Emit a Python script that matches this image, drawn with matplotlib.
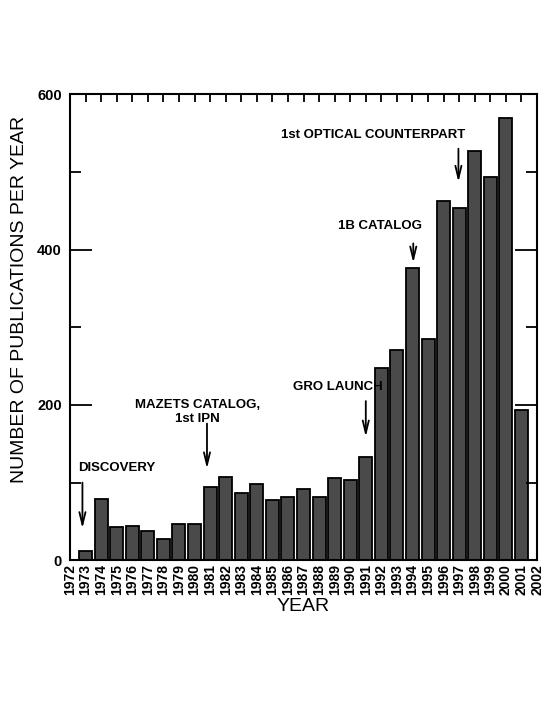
"""Bar chart of GRB publications per year, 1973-2001."""

import numpy as np
from matplotlib import pyplot

years = np.arange(1973, 2002)
counts = [12, 79, 43, 44, 38, 27, 47, 47, 95, 107,
          87, 98, 78, 81, 92, 81, 106, 104, 133, 247,
          271, 376, 285, 462, 453, 527, 494, 569, 193]

# (text, text x, text y, arrow x, arrow top, arrow tip)
events = [
    ('DISCOVERY', 1972.5, 119, 1972.8, 100, 41),
    ('MAZETS CATALOG,\n1st IPN', 1980.2, 191, 1980.8, 176, 118),
    ('GRO LAUNCH', 1989.2, 223, 1991.0, 205, 159),
    ('1B CATALOG', 1991.9, 431, 1994.05, 408, 383),
    ('1st OPTICAL COUNTERPART', 1991.5, 548, 1996.95, 530, 487),
]

pyplot.rc('font', family='Liberation Sans')
fig = pyplot.figure(figsize=(5.45, 7.06), dpi=100)
ax = fig.add_axes([0.1284, 0.2064, 0.857, 0.66])

ax.bar(years, counts, width=0.84, color='#4a4a4a',
       edgecolor='black', linewidth=1.3)

ax.set_xlim(1972, 2002)
ax.set_ylim(0, 600)
ax.set_xticks(np.arange(1972, 2003))
ax.set_xticklabels([str(y) for y in range(1972, 2003)], rotation=90,
                   fontsize=10, fontweight='bold')
ax.set_yticks([0, 200, 400, 600])
ax.set_yticklabels(['0', '200', '400', '600'], fontsize=10.5,
                   fontweight='bold')
ax.set_yticks([100, 300, 500], minor=True)
ax.tick_params(axis='y', which='major', direction='in', length=16,
               width=1.3, right=True, pad=6)
ax.tick_params(axis='y', which='minor', direction='in', length=8,
               width=1.3, right=True)
ax.tick_params(axis='x', which='major', direction='in', length=0,
               top=False, pad=3)
# year ticks along the top only
for y in range(1973, 2002):
    ax.plot([y, y], [600, 600 - 8 / 0.7767], color='black', lw=1.3,
            clip_on=False, solid_capstyle='butt')
for s in ax.spines.values():
    s.set_linewidth(1.5)

ax.set_xlabel('YEAR', fontsize=14, labelpad=2)
ax.set_ylabel('NUMBER OF PUBLICATIONS PER YEAR', fontsize=14)
ax.yaxis.set_label_coords(-0.09, 0.56)

for text, tx, ty, axx, a0, a1 in events:
    ax.text(tx, ty, text, fontsize=9.5, fontweight='bold',
            ha='left' if text == 'DISCOVERY' else 'center',
            va='center', linespacing=1.2, multialignment='center')
    ax.annotate('', xy=(axx, a1), xytext=(axx, a0),
                arrowprops=dict(arrowstyle='->,head_length=0.9,head_width=0.22',
                                color='black', lw=1.3, shrinkA=0, shrinkB=0))

fig.savefig('out.png', dpi=100)
